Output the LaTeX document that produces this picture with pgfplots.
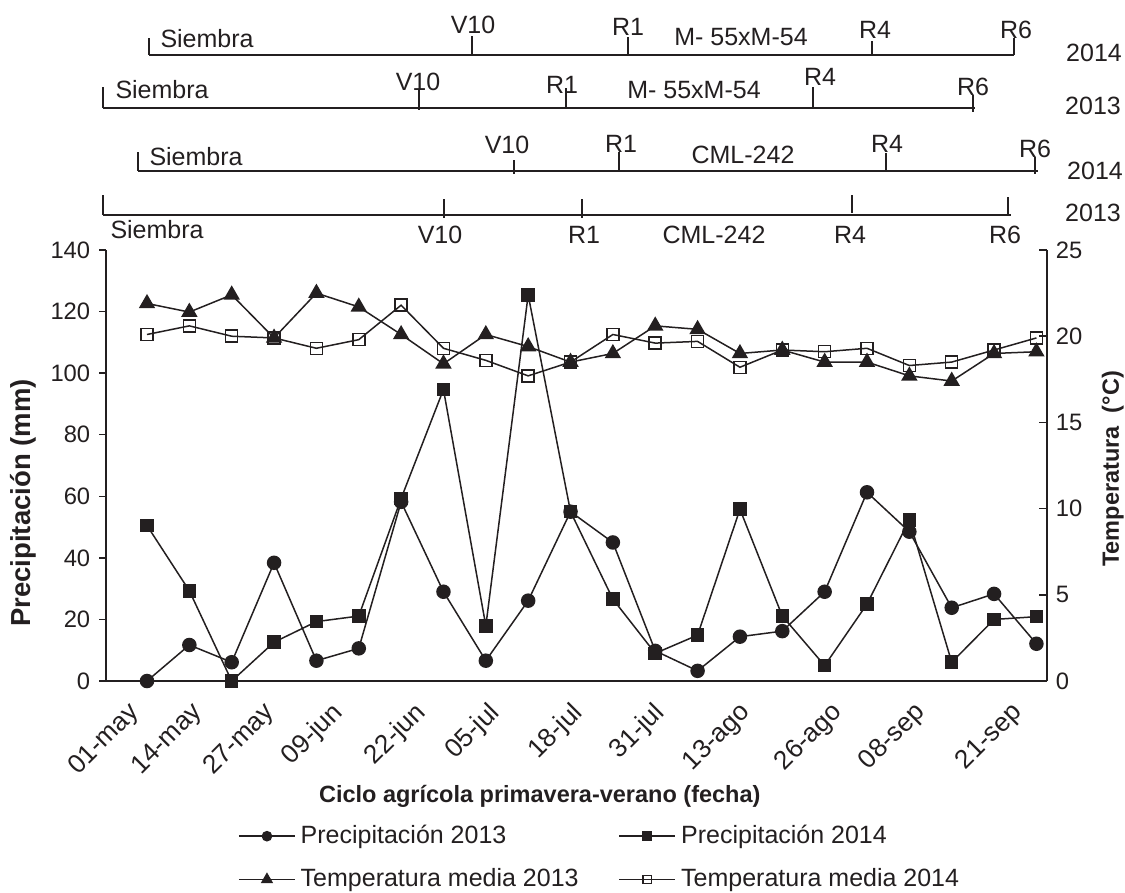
\documentclass[border=0pt]{standalone}
\usepackage{fontspec}
\setmainfont{Liberation Sans}
\usepackage{pgfplots}
\pgfplotsset{compat=1.18}
\definecolor{ink}{HTML}{231F20}

\begin{document}
\begin{tikzpicture}[font=\fontsize{10}{12}\selectfont,
  ann/.style={inner sep=0pt, text=ink, font=\fontsize{10}{12}\selectfont},
  tl/.style={ink, line width=0.6pt, mark=none}]
\path[use as bounding box] (0,0) rectangle (450pt,-356.8pt);

% ---------- phenology timelines (pixel units of the reference) ----------
\begin{axis}[at={(42.4pt,-100pt)}, anchor=south west,
  width=376.4pt, height=100pt, scale only axis,
  xmin=106, xmax=1047, ymin=-250, ymax=0,
  hide axis, clip=false]
% lines
\addplot[tl] coordinates {(149,-55) (1014,-55)};
\addplot[tl] coordinates {(103,-108) (975,-108)};
\addplot[tl] coordinates {(138,-171) (1038,-171)};
\addplot[tl] coordinates {(103,-215) (1011,-215)};
% ticks
\addplot[tl, unbounded coords=jump] coordinates {
 (149,-38) (149,-55) (nan,nan) (472,-36) (472,-55) (nan,nan)
 (628,-37) (628,-55) (nan,nan) (872,-41) (872,-55) (nan,nan)
 (1014,-38) (1014,-55) (nan,nan)
 (103,-87) (103,-108) (nan,nan) (419,-90) (419,-110) (nan,nan)
 (566,-88) (566,-108) (nan,nan) (813,-87) (813,-108) (nan,nan)
 (973,-95) (973,-112) (nan,nan)
 (138,-152) (138,-171) (nan,nan) (514,-160) (514,-174) (nan,nan)
 (619,-152) (619,-171) (nan,nan) (886,-153) (886,-172) (nan,nan)
 (1035,-157) (1035,-174) (nan,nan)
 (103,-195) (103,-215) (nan,nan) (444,-199) (444,-218) (nan,nan)
 (582,-199) (582,-218) (nan,nan) (852,-195) (852,-213) (nan,nan)
 (1008,-197) (1008,-216)};
% labels row 1
\node[ann, anchor=base west] at (axis cs:160,-47) {Siembra};
\node[ann, anchor=base] at (axis cs:473,-33) {V10};
\node[ann, anchor=base] at (axis cs:628,-35) {R1};
\node[ann, anchor=base] at (axis cs:741,-45) {M- 55xM-54};
\node[ann, anchor=base] at (axis cs:875,-38) {R4};
\node[ann, anchor=base] at (axis cs:1016,-38) {R6};
\node[ann, anchor=base] at (axis cs:1094,-61) {2014};
% row 2
\node[ann, anchor=base west] at (axis cs:115,-98) {Siembra};
\node[ann, anchor=base] at (axis cs:418,-90) {V10};
\node[ann, anchor=base] at (axis cs:562,-93) {R1};
\node[ann, anchor=base] at (axis cs:694,-98) {M- 55xM-54};
\node[ann, anchor=base] at (axis cs:820,-85) {R4};
\node[ann, anchor=base] at (axis cs:973,-95) {R6};
\node[ann, anchor=base] at (axis cs:1093,-114) {2013};
% row 3
\node[ann, anchor=base west] at (axis cs:149,-165) {Siembra};
\node[ann, anchor=base] at (axis cs:507,-153) {V10};
\node[ann, anchor=base] at (axis cs:621,-152) {R1};
\node[ann, anchor=base] at (axis cs:743,-163) {CML-242};
\node[ann, anchor=base] at (axis cs:887,-152) {R4};
\node[ann, anchor=base] at (axis cs:1035,-157) {R6};
\node[ann, anchor=base] at (axis cs:1095,-179) {2014};
% row 4
\node[ann, anchor=base west] at (axis cs:110,-238) {Siembra};
\node[ann, anchor=base] at (axis cs:440,-243) {V10};
\node[ann, anchor=base] at (axis cs:584,-243) {R1};
\node[ann, anchor=base] at (axis cs:714,-243) {CML-242};
\node[ann, anchor=base] at (axis cs:850,-243) {R4};
\node[ann, anchor=base] at (axis cs:1005,-243) {R6};
\node[ann, anchor=base] at (axis cs:1093,-221) {2013};
\end{axis}

% ---------- precipitation (left axis) ----------
\begin{axis}[at={(42.4pt,-272.4pt)}, anchor=south west,
  width=376.4pt, height=172.4pt, scale only axis,
  xmin=-0.968, xmax=21.25, ymin=0, ymax=140,
  axis x line*=bottom, axis y line*=left,
  axis line style={ink, line width=0.6pt},
  /pgf/number format/assume math mode=true,
  ytick={0,20,...,140},
  xtick={-0.47,1.02,2.72,4.32,6.28,8.03,9.99,11.92,13.95,16.12,18.08,20.37},
  xticklabels={01-may,14-may,27-may,09-jun,22-jun,05-jul,18-jul,31-jul,13-ago,26-ago,08-sep,21-sep},
  x tick style={draw=none},
  y tick style={ink, line width=0.6pt},
  tick align=outside, major tick length=2.8pt,
  x tick label style={rotate=45, anchor=north east, text=ink, font=\fontsize{10.5}{12}\selectfont},
  y tick label style={text=ink, font=\fontsize{9.5}{11}\selectfont},
  xlabel={\textbf{Ciclo agrícola primavera-verano (fecha)}},
  x label style={at={(axis description cs:0.461,-0.267)}, anchor=center, text=ink, font=\fontsize{9.4}{11}\selectfont},
  ylabel={\textbf{Precipitación (mm)}},
  y label style={at={(axis description cs:-0.088,0.413)}, anchor=center, text=ink, font=\fontsize{11}{13}\selectfont},
  clip=false]
\addplot[ink, line width=0.6pt, mark=*, mark size=2.6pt, mark options={fill=ink}] coordinates {
(0,0) (1,11.7) (2,6.1) (3,38.4) (4,6.6) (5,10.6) (6,58.2) (7,29.0) (8,6.6) (9,26.1) (10,55.0)
(11,45.0) (12,9.8) (13,3.3) (14,14.4) (15,16.2) (16,29.0) (17,61.3) (18,48.5) (19,23.8) (20,28.3) (21,12.1)};
\addplot[ink, line width=0.6pt, mark=square*, mark size=2.4pt, mark options={fill=ink}] coordinates {
(0,50.5) (1,29.3) (2,0) (3,12.6) (4,19.3) (5,21.1) (6,59.3) (7,94.7) (8,17.9) (9,125.4) (10,55.0)
(11,26.6) (12,9.0) (13,14.9) (14,55.8) (15,21.1) (16,5.0) (17,25.0) (18,52.3) (19,6.1) (20,20.0) (21,20.9)};
\end{axis}

% ---------- temperature (right axis) ----------
\begin{axis}[at={(42.4pt,-272.4pt)}, anchor=south west,
  width=376.4pt, height=172.4pt, scale only axis,
  xmin=-0.968, xmax=21.25, ymin=0, ymax=25,
  axis y line*=right, hide x axis,
  axis line style={ink, line width=0.6pt},
  /pgf/number format/assume math mode=true,
  ytick={0,5,...,25},
  y tick style={ink, line width=0.6pt},
  tick align=inside, major tick length=3.2pt,
  y tick label style={text=ink, font=\fontsize{9.5}{11}\selectfont},
  ylabel={\textbf{Temperatura\ \ (°C)}},
  y label style={at={(axis description cs:1.070,0.492)}, anchor=center, text=ink, font=\fontsize{9.4}{11}\selectfont},
  clip=false,
  legend columns=2,
  legend cell align=left,
  legend image code/.code={\draw[mark repeat=2,mark phase=2,#1] plot coordinates {(0pt,0pt) (11.2pt,0pt) (22.4pt,0pt)};},
  legend image post style={every mark/.append style={scale=0.7}},
  legend style={at={(axis description cs:0.132,-0.31)}, anchor=north west,
    draw=none, fill=none, text=ink, font=\fontsize{10}{12}\selectfont,
    row sep=4.5pt,
    /tikz/every even column/.append style={column sep=14pt}}]
\addlegendimage{ink, line width=0.6pt, mark=*, mark size=2.6pt, mark options={fill=ink}}
\addlegendentry{Precipitación 2013}
\addlegendimage{ink, line width=0.6pt, mark=square*, mark size=2.4pt, mark options={fill=ink}}
\addlegendentry{Precipitación 2014}
\addplot[ink, line width=0.6pt, mark=triangle*, mark size=3.2pt, mark options={fill=ink}] coordinates {
(0,21.9) (1,21.4) (2,22.4) (3,19.9) (4,22.5) (5,21.7) (6,20.1) (7,18.4) (8,20.1) (9,19.4) (10,18.5)
(11,19.0) (12,20.6) (13,20.4) (14,19.0) (15,19.2) (16,18.5) (17,18.5) (18,17.7) (19,17.4) (20,19.0) (21,19.1)};
\addlegendentry{Temperatura media 2013}
\addplot[ink, line width=0.6pt, mark=square, mark size=2.4pt, mark options={fill=white}] coordinates {
(0,20.1) (1,20.6) (2,20.0) (3,19.9) (4,19.3) (5,19.8) (6,21.8) (7,19.3) (8,18.6) (9,17.7) (10,18.5)
(11,20.1) (12,19.6) (13,19.7) (14,18.2) (15,19.2) (16,19.1) (17,19.3) (18,18.3) (19,18.5) (20,19.2) (21,19.9)};
\addlegendentry{Temperatura media 2014}
\end{axis}
\end{tikzpicture}
\end{document}
